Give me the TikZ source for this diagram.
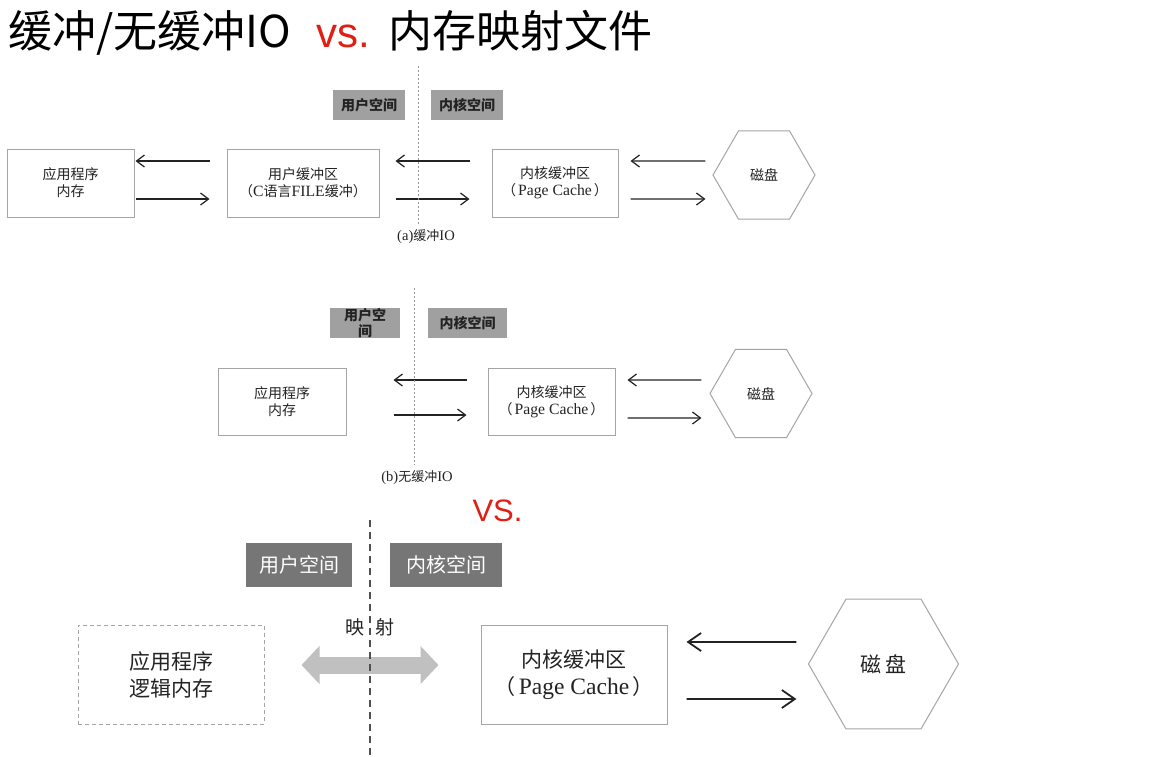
\documentclass[tikz,border=0pt]{standalone}
\usepackage{fontspec}
\setmainfont{Liberation Serif}
\newfontfamily\cjk{Noto Sans CJK SC}
\newfontfamily\arialf{Liberation Sans}
\newfontfamily\latf[Scale=1.12]{Liberation Serif}
\newcommand\latn[1]{{\latf #1}}
\usetikzlibrary{arrows.meta,shapes.geometric}
\definecolor{boxgray}{RGB}{165,165,165}
\definecolor{inkc}{RGB}{35,35,35}
\definecolor{lblgray}{RGB}{160,160,160}
\definecolor{lbldark}{RGB}{118,118,118}
\definecolor{mapgray}{RGB}{192,192,192}
\definecolor{titlered}{RGB}{225,30,20}
\definecolor{divgray}{RGB}{150,150,150}
\definecolor{divdark}{RGB}{80,80,80}
\begin{document}
\begin{tikzpicture}[x=1pt,y=-1pt,
  box/.style={draw=boxgray, line width=1pt, inner sep=0pt, align=center, text=inkc},
  smallfont/.style={font=\cjk\fontsize{14}{17}\selectfont},
  bigfont/.style={font=\cjk\fontsize{21}{27}\selectfont},
  hexbox/.style={draw=boxgray, line width=1pt, regular polygon, regular polygon sides=6, inner sep=0pt, text=inkc},
  lblsmall/.style={fill=lblgray, inner sep=0pt, align=center, text=inkc, font=\cjk\bfseries\fontsize{14}{16}\selectfont},
  lblbig/.style={fill=lbldark, inner sep=0pt, text=white, font=\cjk\fontsize{20}{24}\selectfont},
  arr/.style={draw=inkc, line width=1.2pt, -{Straight Barb[length=8pt,width=12pt]}},
  arrbig/.style={draw=inkc, line width=1.8pt, -{Straight Barb[length=13pt,width=18pt]}},
  caption/.style={inner sep=0pt, text=inkc, font=\cjk\fontsize{13}{15}\selectfont},
  titlecjk/.style={anchor=base west, inner sep=0pt, text=black, font=\cjk\fontsize{44}{48}\selectfont},
]
\useasboundingbox (0,0) rectangle (1167,756);
\fill[white] (0,0) rectangle (1167,756);

% title
\node[titlecjk] (t1) at (8,47) {缓冲/无缓冲IO};
\node[anchor=base west, inner sep=0pt, font=\arialf\fontsize{42}{48}\selectfont, text=titlered] (t2) at (316,47) {vs.};
\node[titlecjk] (t3) at (388,47) {内存映射文件};

% ---------- (a) ----------
\node[lblsmall, minimum width=72pt, minimum height=30pt] (ua) at (369,105) {用户空间};
\node[lblsmall, minimum width=72pt, minimum height=30pt] (ka) at (467,105) {内核空间};
\node[box, smallfont, minimum width=127pt, minimum height=68pt] (appa) at (70.5,183) {应用程序\\内存};
\node[box, smallfont, minimum width=152pt, minimum height=68pt] (ubufa) at (303,183) {用户缓冲区\\（\latn{C}语言\latn{FILE}缓冲）};
\node[box, smallfont, minimum width=126pt, minimum height=68pt] (kbufa) at (555,183) {内核缓冲区\\（\hspace{2pt}\latn{Page Cache}\hspace{2pt}）};
\node[hexbox, smallfont, minimum size=102pt] (diska) at (764,175) {磁盘};

\draw[arr, shorten <=17pt, shorten >=1pt] ([yshift=22pt]ubufa.west) -- ([yshift=22pt]appa.east);
\draw[arr, shorten <=1pt, shorten >=17pt] ([yshift=-16pt]appa.east) -- ([yshift=-16pt]ubufa.west);
\draw[arr, shorten <=22pt, shorten >=16pt] ([yshift=22pt]kbufa.west) -- ([yshift=22pt]ubufa.east);
\draw[arr, shorten <=16pt, shorten >=22pt] ([yshift=-16pt]ubufa.east) -- ([yshift=-16pt]kbufa.west);
\draw[arr, shorten <=7pt, shorten >=12pt] ([yshift=14pt]diska.west) -- ([yshift=22pt]kbufa.east);
\draw[arr, shorten <=12pt, shorten >=7pt] ([yshift=-16pt]kbufa.east) -- ([yshift=-24pt]diska.west);

\node[caption] (capa) at (426,237) {\latn{(a)}缓冲\latn{IO}};
\draw[divgray, line width=1pt, dash pattern=on 2pt off 2pt] (418,66) -- (418,224);

% ---------- (b) ----------
\node[lblsmall, minimum width=70pt, minimum height=30pt] (ub) at (365,323) {用户空\\间};
\node[lblsmall, minimum width=79pt, minimum height=30pt] (kb) at (467.5,323) {内核空间};
\node[box, smallfont, minimum width=128pt, minimum height=67pt] (appb) at (282,401.5) {应用程序\\内存};
\node[box, smallfont, minimum width=127pt, minimum height=67pt] (kbufb) at (551.5,401.5) {内核缓冲区\\（\hspace{2pt}\latn{Page Cache}\hspace{2pt}）};
\node[hexbox, smallfont, minimum size=102pt] (diskb) at (761,393.5) {磁盘};

\draw[arr, shorten <=21pt, shorten >=47pt] ([yshift=21.5pt]kbufb.west) -- ([yshift=21.5pt]appb.east);
\draw[arr, shorten <=47pt, shorten >=21pt] ([yshift=-13.5pt]appb.east) -- ([yshift=-13.5pt]kbufb.west);
\draw[arr, shorten <=8pt, shorten >=12pt] ([yshift=13.5pt]diskb.west) -- ([yshift=21.5pt]kbufb.east);
\draw[arr, shorten <=12pt, shorten >=8pt] ([yshift=-16.5pt]kbufb.east) -- ([yshift=-24.5pt]diskb.west);

\node[caption] (capb) at (417,478) {\latn{(b)}无缓冲\latn{IO}};
\draw[divgray, line width=1pt, dash pattern=on 2pt off 2pt] (414,288) -- (414,465);

\node[anchor=base, inner sep=0pt, font=\arialf\fontsize{31}{36}\selectfont, text=titlered] (vs) at (497.5,521) {VS.};

% ---------- (c) ----------
\node[lblbig, minimum width=106pt, minimum height=44pt] (uc) at (299,565) {用户空间};
\node[lblbig, minimum width=112pt, minimum height=44pt] (kc) at (446,565) {内核空间};
\node[box, bigfont, dash pattern=on 4pt off 3pt, minimum width=186pt, minimum height=99pt] (appc) at (171,674.5) {应用程序\\逻辑内存};
\node[box, bigfont, minimum width=186pt, minimum height=99pt] (kbufc) at (574,674.5) {内核缓冲区\\（\hspace{3pt}\latn{Page Cache}\hspace{3pt}）};
\node[hexbox, bigfont, minimum size=150pt] (diskc) at (883.5,664) {磁\,盘};
\node[inner sep=0pt, font=\cjk\fontsize{19}{22}\selectfont, text=inkc] (mapl) at (370,627) {映\hspace{12pt}射};

\draw[line width=17pt, draw=mapgray, {Triangle[length=18pt,width=37pt]}-{Triangle[length=18pt,width=37pt]}, shorten <=37pt, shorten >=42pt] ([yshift=9.5pt]appc.east) -- ([yshift=9.5pt]kbufc.west);

\draw[arrbig, shorten <=11.5pt, shorten >=19pt] ([yshift=22pt]diskc.west) -- ([yshift=32.5pt]kbufc.east);
\draw[arrbig, shorten <=19pt, shorten >=11.5pt] ([yshift=-24.5pt]kbufc.east) -- ([yshift=-35pt]diskc.west);

\draw[divdark, line width=1.6pt, dash pattern=on 7pt off 5pt] (370,520) -- (370,756);
\end{tikzpicture}
\end{document}
